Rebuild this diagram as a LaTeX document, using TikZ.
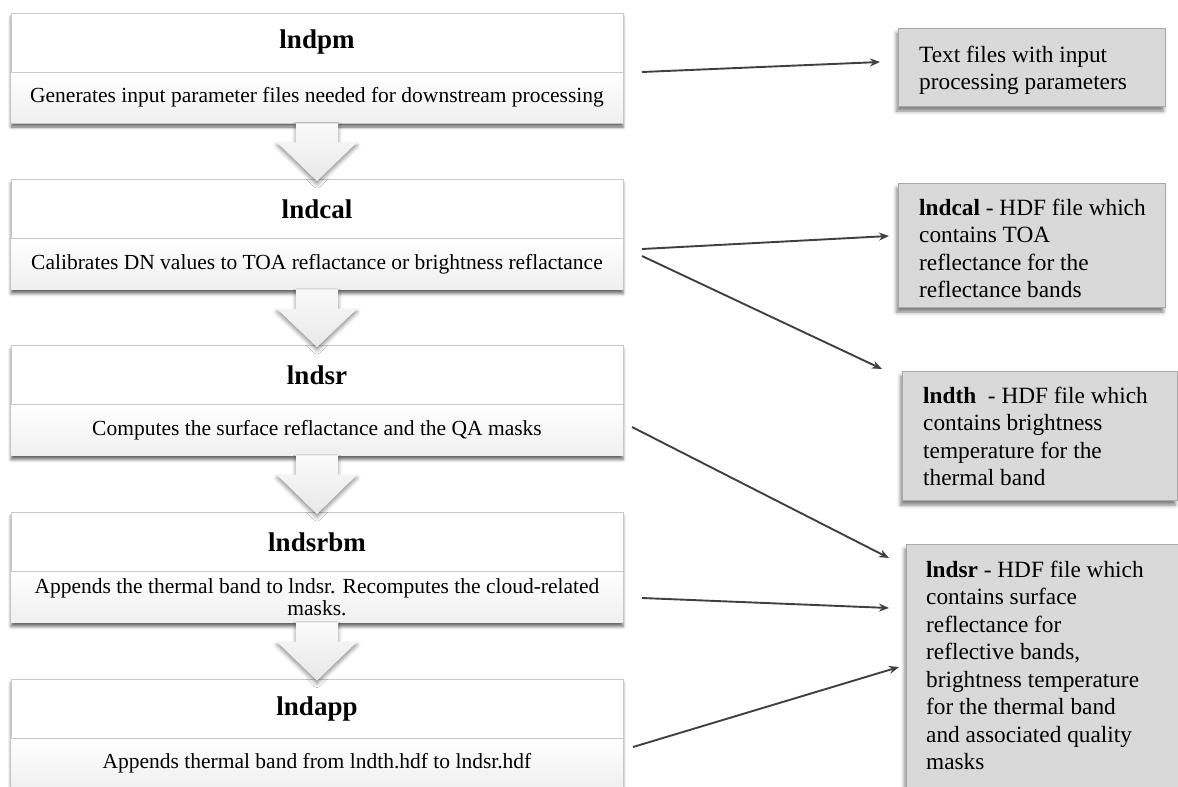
\documentclass[tikz,border=0pt]{standalone}
\usepackage{fontspec}
\setmainfont{Liberation Serif}
\usetikzlibrary{shadows.blur,arrows.meta,calc}
\definecolor{conncol}{HTML}{404040}
\definecolor{rfill}{HTML}{D9D9D9}
\definecolor{rborder}{HTML}{A8A8A8}
\definecolor{lborder}{HTML}{C8C8C8}
\tikzset{
  procbox/.style={draw=lborder, line width=0.8pt, fill=white, minimum width=612pt,
    minimum height=110pt, inner sep=0pt,
    blur shadow={shadow xshift=0pt, shadow yshift=-4pt, shadow blur radius=3pt, shadow opacity=60}},
  lowerpart/.style={top color=white, bottom color=black!6, draw=none},
  divider/.style={draw=lborder, line width=0.8pt},
  proctitle/.style={font=\fontsize{27}{30}\selectfont\bfseries, inner sep=0pt},
  procdesc/.style={font=\fontsize{21.5}{22}\selectfont, inner sep=0pt, align=center},
  outbox/.style={draw=rborder, line width=0.8pt, fill=rfill, inner sep=0pt,
    blur shadow={shadow xshift=-1.5pt, shadow yshift=-5pt, shadow blur radius=3.5pt, shadow opacity=50}},
  outtext/.style={anchor=north west, inner sep=0pt, align=flush left,
    font=\fontsize{23.3}{27.5}\selectfont},
  blockarr/.style={top color=black!2, bottom color=black!9, draw=none,
    blur shadow={shadow xshift=0pt, shadow yshift=-3pt, shadow blur radius=4pt, shadow opacity=45}},
  conn/.style={draw=conncol, line width=1.9pt, -{Stealth[length=10pt,width=8pt]}},
}
\newcommand\blockarrow[2]{%
  \path[blockarr] ($(#1.south)+(-21,0)$) -- ($(#1.south)+(21,0)$) -- ($(#1.south)+(21,19)$)
    -- ($(#1.south)+(40,19)$) -- ($(#2.north)+(0,2)$) -- ($(#1.south)+(-40,19)$)
    -- ($(#1.south)+(-21,19)$) -- cycle;}
\begin{document}
\begin{tikzpicture}[x=1pt,y=-1pt]
\useasboundingbox (0,0) rectangle (1178,787);
\clip (0,0) rectangle (1178,787);
% ---------- left process boxes ----------
\node[procbox] (b1) at (317,68) {};
\node[procbox] (b2) at (317,234.5) {};
\node[procbox] (b3) at (317,400.5) {};
\node[procbox] (b4) at (317,567.5) {};
\node[procbox] (b5) at (317,734) {};
% lower parts and dividers
\path[lowerpart] (11.4,72) rectangle (622.6,122.6);
\path[lowerpart] (11.4,238.5) rectangle (622.6,289.1);
\path[lowerpart] (11.4,404.5) rectangle (622.6,455.1);
\path[lowerpart] (11.4,571.5) rectangle (622.6,622.1);
\path[lowerpart] (11.4,738) rectangle (622.6,788.6);
\draw[divider] (11,72) -- (623,72);
\draw[divider] (11,238.5) -- (623,238.5);
\draw[divider] (11,404.5) -- (623,404.5);
\draw[divider] (11,571.5) -- (623,571.5);
\draw[divider] (11,738) -- (623,738);
% titles
\node[proctitle] (b1t) at (317,42.5) {lndpm};
\node[proctitle] (b2t) at (317,209) {lndcal};
\node[proctitle] (b3t) at (317,375) {lndsr};
\node[proctitle] (b4t) at (317,542) {lndsrbm};
\node[proctitle] (b5t) at (317,708.5) {lndapp};
% descriptions
\node[procdesc] (b1d) at (317,97.5) {Generates input parameter files needed for downstream processing};
\node[procdesc] (b2d) at (317,264) {Calibrates DN values to TOA reflactance or brightness reflactance};
\node[procdesc] (b3d) at (317,430) {Computes the surface reflactance and the QA masks};
\node[procdesc] (b4d) at (317,597) {Appends the thermal band to lndsr. Recomputes the cloud-related\\masks.};
\node[procdesc] (b5d) at (317,763) {Appends thermal band from lndth.hdf to lndsr.hdf};
% block arrows
\blockarrow{b1}{b2}
\blockarrow{b2}{b3}
\blockarrow{b3}{b4}
\blockarrow{b4}{b5}
% ---------- right output boxes ----------
\node[outbox, minimum width=267pt, minimum height=78pt] (r1) at (1031.5,67) {};
\node[outbox, minimum width=267pt, minimum height=124pt] (r2) at (1031.5,245) {};
\node[outbox, minimum width=275pt, minimum height=129pt] (r3) at (1039.5,435.5) {};
\node[outbox, minimum width=272pt, minimum height=256pt] (r4) at (1042,672) {};
\node[outtext] (r1t) at (919,42.75) {\strut Text files with input\\processing parameters};
\node[outtext] (r2t) at (919,195.75) {\strut\textbf{lndcal} - HDF file which\\contains TOA\\reflectance for the\\reflectance bands};
\node[outtext] (r3t) at (923,383.75) {\strut\textbf{lndth}\ \ - HDF file which\\contains brightness\\temperature for the\\thermal band};
\node[outtext] (r4t) at (926,557.75) {\strut\textbf{lndsr} - HDF file which\\contains surface\\reflectance for\\reflective bands,\\brightness temperature\\for the thermal band\\and associated quality\\masks};
% ---------- connectors ----------
\coordinate (a1s) at (642,72);   \coordinate (a1e) at (880,62);
\coordinate (a2s) at (642,249);  \coordinate (a2e) at (889,236);
\coordinate (a3s) at (642,256);  \coordinate (a3e) at (882,369);
\coordinate (a4s) at (632,427);  \coordinate (a4e) at (889,558);
\coordinate (a5s) at (642,598);  \coordinate (a5e) at (889,608);
\coordinate (a6s) at (633,747);  \coordinate (a6e) at (899,667);
\draw[conn] (a1s) -- (a1e);
\draw[conn] (a2s) -- (a2e);
\draw[conn] (a3s) -- (a3e);
\draw[conn] (a4s) -- (a4e);
\draw[conn] (a5s) -- (a5e);
\draw[conn] (a6s) -- (a6e);
\end{tikzpicture}
\end{document}
